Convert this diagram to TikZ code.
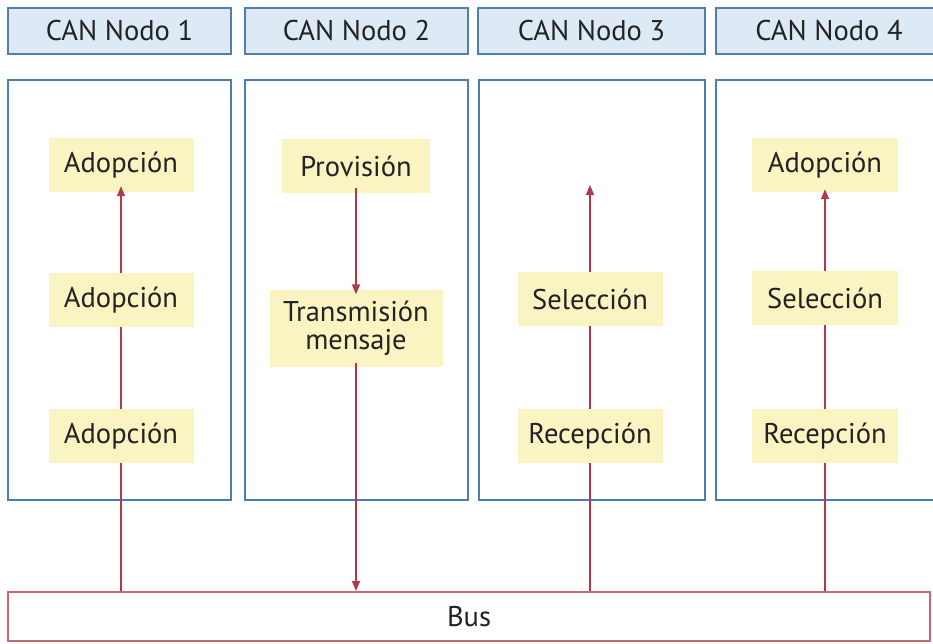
\documentclass[tikz,border=0pt]{standalone}
\usepackage{fontspec}
\setmainfont{PT Sans}
\usetikzlibrary{arrows.meta}
\definecolor{hdrfill}{HTML}{DDEAF6}
\definecolor{hdrline}{HTML}{4F7FAE}
\definecolor{boxline}{HTML}{4A7DB5}
\definecolor{yel}{HTML}{FAF3C2}
\definecolor{arr}{HTML}{B03A4A}
\definecolor{busline}{HTML}{C46A6E}
\definecolor{txt}{HTML}{222222}
\begin{document}
\begin{tikzpicture}[x=1pt,y=-1pt,
  font=\fontsize{28.5}{32}\selectfont,
  hdr/.style={draw=hdrline,line width=1.6pt,fill=hdrfill,minimum height=46pt,text=txt},
  colbox/.style={draw=boxline,line width=1.8pt,fill=white},
  stepbox/.style={fill=yel,minimum height=54pt,inner xsep=6pt,text=txt,align=center},
  flow/.style={draw=arr,line width=1.5pt,-{Triangle[length=10pt,width=8pt]}},
  plain/.style={draw=arr,line width=1.5pt}]
\useasboundingbox (0,0) rectangle (933,643);
\fill[white] (0,0) rectangle (933,643);
% headers
\node[hdr,minimum width=223pt] (h1) at (119.5,31) {CAN Nodo 1};
\node[hdr,minimum width=223pt] (h2) at (356.5,31) {CAN Nodo 2};
\node[hdr,minimum width=227pt] (h3) at (591.5,31) {CAN Nodo 3};
\node[hdr,minimum width=226pt] (h4) at (829,31) {CAN Nodo 4};
% column boxes
\draw[colbox] (8,80) rectangle (231,500);
\draw[colbox] (245,80) rectangle (468,500);
\draw[colbox] (479,80) rectangle (705,500);
\draw[colbox] (716,80) rectangle (945,500);
% bus
\node[draw=busline,line width=2pt,fill=white,minimum width=922pt,minimum height=49pt,text=txt] (bus) at (469,616.5) {Bus};
% column 1
\node[stepbox,minimum width=145pt] (a1) at (121,165) {Adopción};
\node[stepbox,minimum width=145pt] (a2) at (121,300) {Adopción};
\node[stepbox,minimum width=145pt] (a3) at (121,436) {Adopción};
% column 2
\node[stepbox,minimum width=148pt] (p) at (356,166) {Provisión};
\node[stepbox,minimum width=173pt,minimum height=77pt,inner ysep=4pt] (t) at (356,328) {Transmisión\\[-4pt]mensaje};
% column 3
\node[stepbox,minimum width=145pt] (s3) at (590,299) {Selección};
\node[stepbox,minimum width=145pt] (r3) at (590,436) {Recepción};
\coordinate (c3) at (590,185);
% column 4
\node[stepbox,minimum width=146pt] (a4) at (825,165) {Adopción};
\node[stepbox,minimum width=146pt] (s4) at (825,298) {Selección};
\node[stepbox,minimum width=146pt] (r4) at (825,436) {Recepción};
% connectors
\draw[plain] (bus.north -| a3) -- (a3.south);
\draw[plain] (a3.north) -- (a2.south);
\draw[flow] (a2.north) -- ([yshift=6pt]a1.south);
\draw[flow] ([yshift=5pt]p.south) -- ([yshift=-5pt]t.north);
\draw[flow] ([yshift=4pt]t.south) -- (t.south |- bus.north);
\draw[plain] (bus.north -| r3) -- (r3.south);
\draw[plain] (r3.north) -- (s3.south);
\draw[flow] (s3.north) -- (c3);
\draw[plain] (bus.north -| r4) -- (r4.south);
\draw[plain] (r4.north) -- (s4.south);
\draw[flow] (s4.north) -- ([yshift=3pt]a4.south);
\end{tikzpicture}
\end{document}
